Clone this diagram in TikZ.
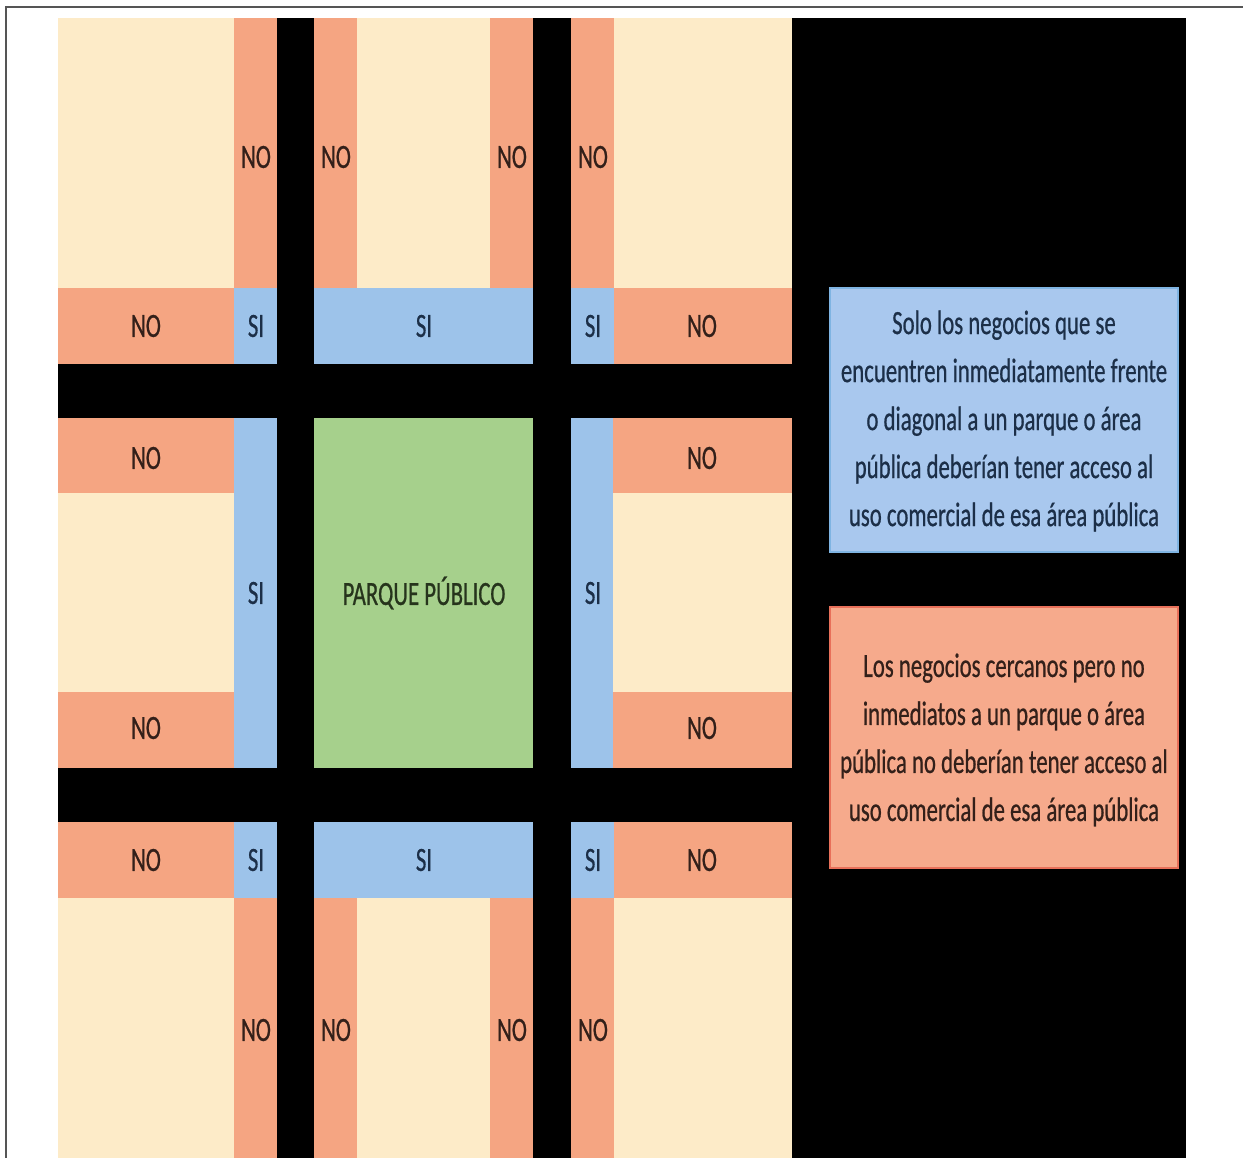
\documentclass[tikz,border=0pt]{standalone}
\usepackage{fontspec}
\setmainfont{Carlito}
\newfontfamily\condfont[FakeStretch=0.67,FakeBold=0.6]{Carlito}
\definecolor{cream}{HTML}{FDEBC8}
\definecolor{salmon}{HTML}{F5A582}
\definecolor{skyblue}{HTML}{9DC3EA}
\definecolor{parkgreen}{HTML}{A6D08C}
\definecolor{boxblue}{HTML}{A9C8EE}
\definecolor{boxblueline}{HTML}{7FB4E2}
\definecolor{boxsalmon}{HTML}{F6AA8C}
\definecolor{boxsalmonline}{HTML}{E8705A}
\definecolor{notext}{HTML}{33201A}
\definecolor{sitext}{HTML}{1C2F48}
\definecolor{parktext}{HTML}{26341C}
\definecolor{framegray}{HTML}{555555}
\tikzset{
  lbl/.style={font=\condfont\fontsize{34}{40}\selectfont, inner sep=0pt},
  nolbl/.style={lbl, text=notext},
  silbl/.style={lbl, text=sitext},
  parklbl/.style={lbl, text=parktext},
  creamlot/.style={fill=cream},
  nostrip/.style={fill=salmon},
  sistrip/.style={fill=skyblue},
  notebox/.style={align=center, font=\condfont\fontsize{34}{48}\selectfont, inner sep=0pt},
}
\begin{document}
\begin{tikzpicture}[x=1pt,y=-1pt]
\useasboundingbox (0,0) rectangle (1243,1158);
% frame
\draw[framegray, line width=1.6pt] (6,1158) -- (6,7) -- (1243,7);
% black ground (roads and right area)
\fill[black] (58,18) rectangle (1186,1158);
% ---- top band ----
\fill[creamlot] (58,18) rectangle (234,288);
\fill[nostrip] (234,18) rectangle (277,288);
\fill[nostrip] (314,18) rectangle (357,288);
\fill[creamlot] (357,18) rectangle (490,288);
\fill[nostrip] (490,18) rectangle (533,288);
\fill[nostrip] (571,18) rectangle (614,288);
\fill[creamlot] (614,18) rectangle (792,288);
\node[nolbl] (n1) at (256,157) {NO};
\node[nolbl] (n2) at (336,157) {NO};
\node[nolbl] (n3) at (512,157) {NO};
\node[nolbl] (n4) at (593,157) {NO};
% ---- upper frontage row ----
\fill[nostrip] (58,288) rectangle (234,364);
\fill[sistrip] (234,288) rectangle (277,364);
\fill[sistrip] (314,288) rectangle (533,364);
\fill[sistrip] (571,288) rectangle (614,364);
\fill[nostrip] (614,288) rectangle (792,364);
\node[nolbl] (n5) at (146,326) {NO};
\node[silbl] (s1) at (256,326) {SI};
\node[silbl] (s2) at (424,326) {SI};
\node[silbl] (s3) at (593,326) {SI};
\node[nolbl] (n6) at (702,326) {NO};
% ---- middle band ----
\fill[nostrip] (58,418) rectangle (234,493);
\fill[creamlot] (58,493) rectangle (234,692);
\fill[nostrip] (58,692) rectangle (234,768);
\fill[sistrip] (234,418) rectangle (277,768);
\fill[parkgreen] (314,418) rectangle (533,768);
\fill[sistrip] (571,418) rectangle (613,768);
\fill[nostrip] (613,418) rectangle (792,493);
\fill[creamlot] (613,493) rectangle (792,692);
\fill[nostrip] (613,692) rectangle (792,768);
\node[nolbl] (n7) at (146,458) {NO};
\node[nolbl] (n8) at (146,728) {NO};
\node[silbl] (s4) at (256,593) {SI};
\node[parklbl] (park) at (424,593) {PARQUE PÚBLICO};
\node[silbl] (s5) at (593,593) {SI};
\node[nolbl] (n9) at (702,458) {NO};
\node[nolbl] (n10) at (702,728) {NO};
% ---- lower frontage row ----
\fill[nostrip] (58,822) rectangle (234,898);
\fill[sistrip] (234,822) rectangle (277,898);
\fill[sistrip] (314,822) rectangle (533,898);
\fill[sistrip] (571,822) rectangle (614,898);
\fill[nostrip] (614,822) rectangle (792,898);
\node[nolbl] (n11) at (146,860) {NO};
\node[silbl] (s6) at (256,860) {SI};
\node[silbl] (s7) at (424,860) {SI};
\node[silbl] (s8) at (593,860) {SI};
\node[nolbl] (n12) at (702,860) {NO};
% ---- bottom band ----
\fill[creamlot] (58,898) rectangle (234,1158);
\fill[nostrip] (234,898) rectangle (277,1158);
\fill[nostrip] (314,898) rectangle (357,1158);
\fill[creamlot] (357,898) rectangle (490,1158);
\fill[nostrip] (490,898) rectangle (533,1158);
\fill[nostrip] (571,898) rectangle (614,1158);
\fill[creamlot] (614,898) rectangle (792,1158);
\node[nolbl] (n13) at (256,1030) {NO};
\node[nolbl] (n14) at (336,1030) {NO};
\node[nolbl] (n15) at (512,1030) {NO};
\node[nolbl] (n16) at (593,1030) {NO};
% ---- legend boxes ----
\draw[fill=boxblue, draw=boxblueline, line width=1.2pt] (830,288) rectangle (1178,552);
\node[notebox, text=sitext] (legsi) at (1004,421) {Solo los negocios que se\\encuentren inmediatamente frente\\o diagonal a un parque o área\\pública deberían tener acceso al\\uso comercial de esa área pública};
\draw[fill=boxsalmon, draw=boxsalmonline, line width=1.2pt] (830,607) rectangle (1178,868);
\node[notebox, text=notext] (legno) at (1004,740) {Los negocios cercanos pero no\\inmediatos a un parque o área\\pública no deberían tener acceso al\\uso comercial de esa área pública};
\end{tikzpicture}
\end{document}
